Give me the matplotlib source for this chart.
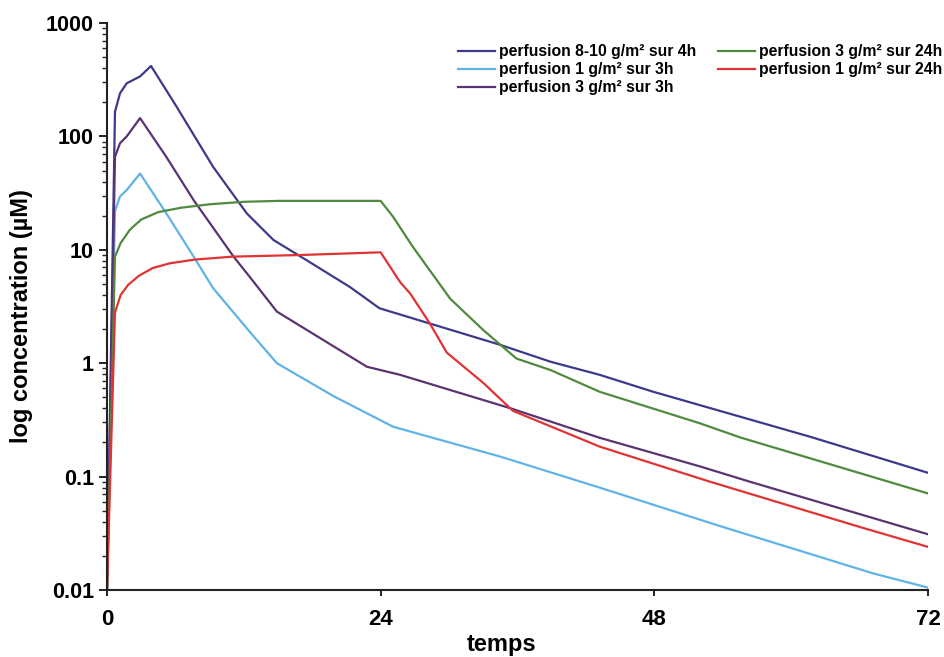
import matplotlib.pyplot as plt
from matplotlib.ticker import FixedLocator, LogLocator, NullFormatter

plt.rcParams["font.family"] = ["Liberation Sans", "DejaVu Sans"]

## Données (temps en h, concentration en µM)
t_810_4h = [0, 0.7, 1.14, 1.73, 2.9, 3.86, 6.1, 9.3, 12.25, 14.6, 17.5, 21.3, 23.9, 34.5, 38.9, 43.2, 47.9, 61.7, 72]
c_810_4h = [0.01, 165, 240, 294, 338, 418, 183, 54, 21, 12.2, 8.1, 4.7, 3.05, 1.45, 1.03, 0.79, 0.56, 0.224, 0.108]

t_1_3h = [0, 0.7, 1.14, 1.73, 2.9, 5.2, 7.6, 9.3, 12.5, 14.9, 19.9, 25.1, 34.5, 43.2, 54, 67.2, 72]
c_1_3h = [0.01, 22, 29.5, 33.7, 47, 21, 8.7, 4.6, 1.9, 1.0, 0.51, 0.275, 0.15, 0.08, 0.036, 0.014, 0.0105]

t_3_3h = [0, 0.7, 1.14, 1.73, 2.9, 5.2, 7.6, 11.1, 12.5, 14.9, 22.8, 25.7, 30.1, 35.4, 43.2, 52, 56.4, 72]
c_3_3h = [0.01, 66, 87, 100, 145, 66, 27.4, 8.7, 5.8, 2.85, 0.93, 0.79, 0.58, 0.4, 0.22, 0.123, 0.09, 0.031]

t_3_24h = [0, 0.7, 1.2, 2.0, 3.0, 4.5, 6.5, 9.0, 12.0, 15.0, 24, 25.1, 26.8, 30.1, 33, 35.9, 38.9, 43.2, 52, 55.5, 72]
c_3_24h = [0.01, 8.7, 11.5, 15, 18.5, 21.5, 23.5, 25.2, 26.5, 27, 27, 19.5, 10.7, 3.7, 1.96, 1.1, 0.87, 0.56, 0.295, 0.222, 0.071]

t_1_24h = [0, 0.7, 1.2, 1.85, 2.8, 4.0, 5.5, 7.7, 11.0, 17.0, 24, 25.7, 26.6, 28.3, 29.8, 33, 35.6, 43.2, 52.6, 66, 72]
c_1_24h = [0.01, 2.8, 4.0, 4.9, 5.9, 6.9, 7.6, 8.2, 8.7, 9.0, 9.5, 5.2, 4.1, 2.25, 1.24, 0.67, 0.38, 0.184, 0.092, 0.036, 0.024]

y_ticks = [0.01, 0.1, 1, 10, 100, 1000]
y_labels = ["0.01", "0.1", "1", "10", "100", "1000"]
x_ticks = [0, 24, 48, 72]

series = [
    (t_810_4h, c_810_4h, "perfusion 8-10 g/m² sur 4h", "#3c3a8a"),
    (t_1_3h, c_1_3h, "perfusion 1 g/m² sur 3h", "#5fb3e6"),
    (t_3_3h, c_3_3h, "perfusion 3 g/m² sur 3h", "#5a3372"),
    (t_3_24h, c_3_24h, "perfusion 3 g/m² sur 24h", "#4f8a3e"),
    (t_1_24h, c_1_24h, "perfusion 1 g/m² sur 24h", "#e03333"),
]

fig = plt.figure(figsize=(9.45, 6.57), dpi=100)
ax = fig.add_axes([107 / 945, 1 - 590 / 657, 821 / 945, 567 / 657])

for t, c, nome, cor in series:
    ax.plot(t, c, color=cor, lw=1.6, label=nome)

ax.set_yscale("log")
ax.set_xlim(0, 72)
ax.set_ylim(0.01, 1000)

ax.yaxis.set_major_locator(FixedLocator(y_ticks))
ax.set_yticklabels(y_labels)
ax.yaxis.set_minor_locator(LogLocator(base=10, subs=range(2, 10)))
ax.yaxis.set_minor_formatter(NullFormatter())
ax.set_xticks(x_ticks)

ax.spines["top"].set_visible(False)
ax.spines["right"].set_visible(False)
for s in ("left", "bottom"):
    ax.spines[s].set_linewidth(1.5)
    ax.spines[s].set_color("#222222")

ax.tick_params(axis="y", which="major", length=5.5, width=1.4, labelsize=15.5, pad=4, color="#222222")
ax.tick_params(axis="x", which="major", length=4, width=1.4, labelsize=16, pad=10, color="#222222")
ax.tick_params(axis="y", which="minor", length=3.5, width=1.0, color="#222222")
for lab in ax.get_xticklabels() + ax.get_yticklabels():
    lab.set_fontweight("bold")

ax.set_xlabel("temps", fontsize=17, fontweight="bold")
ax.xaxis.set_label_coords(0.481, -0.075)
ax.set_ylabel("log concentration (µM)", fontsize=17, fontweight="bold")
ax.yaxis.set_label_coords(-0.09, 0.483)

ax.legend(
    loc="upper left",
    bbox_to_anchor=(458 / 945, 1 - 44 / 657),
    bbox_transform=fig.transFigure,
    ncol=2,
    frameon=False,
    prop={"weight": "bold", "size": 11.3},
    handlelength=2.36,
    handletextpad=0.25,
    labelspacing=0.2,
    columnspacing=1.4,
    borderaxespad=0,
    borderpad=0,
)

fig.savefig("out.png", dpi=100)
